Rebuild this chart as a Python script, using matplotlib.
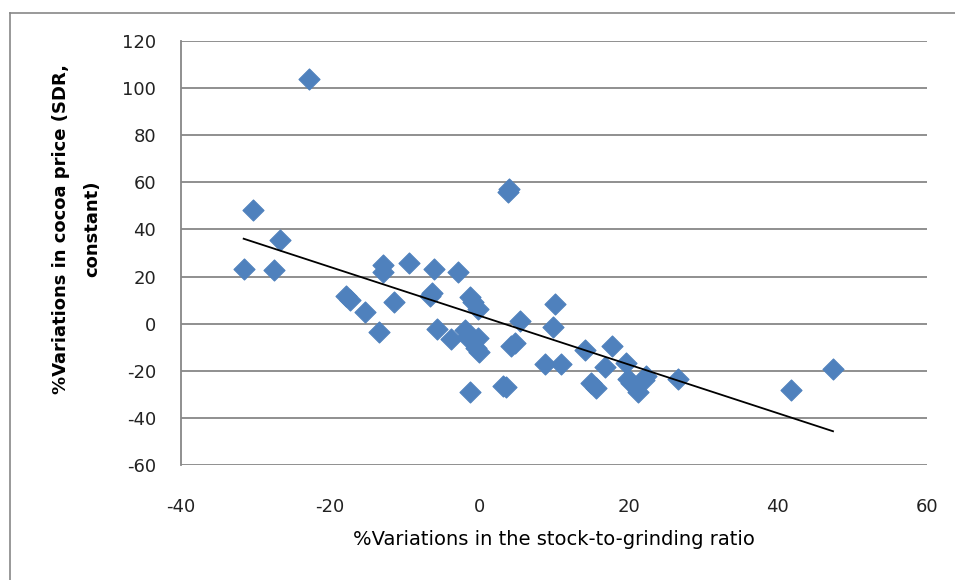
import numpy as np
import matplotlib.pyplot as plt
from matplotlib.lines import Line2D

# % variation in stock-to-grinding ratio
stock_ratio = [-22.8, -30.3, -26.7, -31.6, -27.5, -12.9, -12.9, -9.4, -6.1, -2.9,
               3.9, 4.0, -17.9, -17.3, -15.3, -11.5, -13.5, -6.3, -6.6, -1.2,
               -0.9, -0.2, -5.7, -3.8, -1.9, -1.7, -0.2, -0.1, -0.5, 5.4,
               4.8, 4.3, 10.2, 9.9, 8.8, 10.9, -1.2, 3.2, 3.6, 14.1,
               17.8, 16.9, 19.6, 15.0, 15.6, 19.9, 20.3, 21.2, 22.3, 22.0,
               26.6, 41.8, 47.4]
# % variation in cocoa price (SDR, constant)
cocoa_price = [104.0, 48.3, 35.5, 23.1, 22.8, 24.9, 22.1, 25.6, 23.2, 21.8,
               55.8, 57.2, 11.8, 10.1, 5.1, 9.3, -3.4, 12.9, 11.8, 11.5,
               9.3, 6.2, -2.2, -6.6, -2.7, -5.5, -6.2, -11.9, -10.3, 1.2,
               -8.3, -9.5, 8.4, -1.3, -17.1, -17.1, -29.1, -26.3, -26.9, -11.2,
               -9.5, -18.5, -16.8, -25.0, -27.4, -23.6, -25.3, -28.9, -22.1, -23.9,
               -23.5, -28.1, -19.2]

x = np.array(stock_ratio)
y = np.array(cocoa_price)

plt.rcParams['font.family'] = ['DejaVu Sans']
plt.rcParams['axes.unicode_minus'] = False

fig = plt.figure(figsize=(9.55, 5.8), dpi=100)
ax = fig.add_axes([181/955, 1 - 465/580, (927-181)/955, (465-41)/580])

# outer chart border (left and top only visible)
fig.add_artist(Line2D([10/955, 10/955], [0, 1 - 13/580], color='#878787', lw=1.2))
fig.add_artist(Line2D([10/955, 1], [1 - 13/580, 1 - 13/580], color='#878787', lw=1.2))

ax.scatter(x, y, marker='D', s=115, color='#4F81BD', edgecolor='#4F81BD',
           linewidth=0.8, zorder=3)

# linear trend line
b, a = np.polyfit(x, y, 1)
xs = np.array([x.min(), x.max()])
ax.plot(xs, a + b * xs, color='black', lw=1.3, zorder=4)

ax.set_xlim(-40, 60)
ax.set_ylim(-60, 120)
ax.set_xticks(np.arange(-40, 61, 20))
ax.set_yticks(np.arange(-60, 121, 20))
ax.yaxis.grid(True, color='#878787', lw=1.3)
ax.set_axisbelow(True)
for s in ['top', 'right', 'bottom']:
    ax.spines[s].set_visible(False)
ax.spines['left'].set_color('#878787')
ax.spines['left'].set_linewidth(1.3)
ax.tick_params(axis='both', length=0, labelsize=13, colors='#222222')
ax.tick_params(axis='y', pad=18)
ax.tick_params(axis='x', pad=24)

ax.set_xlabel('%Variations in the stock-to-grinding ratio', fontsize=14, labelpad=10)
fig.text(77/955, 1 - 229/580, '%Variations in cocoa price (SDR,\nconstant)',
         rotation=90, ha='center', va='center', fontsize=13, fontweight='bold',
         multialignment='center', linespacing=1.95)

plt.savefig('out.png', dpi=100)
